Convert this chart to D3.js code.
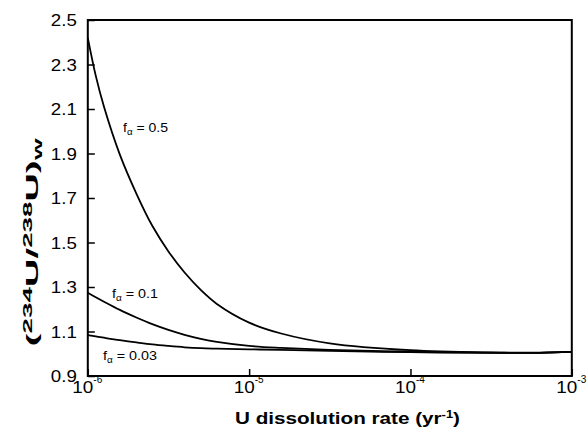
<!DOCTYPE html>
<html><head><meta charset="utf-8">
<script src="https://cdn.jsdelivr.net/npm/d3@7/dist/d3.min.js"></script>
<style>body{margin:0;background:#fff}text{font-family:"Liberation Sans",Arial,sans-serif;fill:#000}</style>
</head><body><svg id="c" width="587" height="434"></svg>
<script>
// ---- data ----
const rates = [1.0e-6, 1.12e-6, 1.26e-6, 1.58e-6, 2.0e-6, 2.51e-6, 3.16e-6, 3.98e-6, 5.01e-6, 6.31e-6, 1.0e-5, 1.58e-5, 3.16e-5, 1.0e-4, 3.16e-4, 6.31e-4, 1.0e-3];
const fa05  = [2.42, 2.25, 2.11, 1.895, 1.72, 1.575, 1.46, 1.365, 1.287, 1.224, 1.140, 1.091, 1.047, 1.016, 1.006, 1.005, 1.008];
const fa01  = [1.274, 1.254, 1.234, 1.197, 1.163, 1.133, 1.107, 1.085, 1.067, 1.053, 1.035, 1.026, 1.017, 1.009, 1.005, 1.004, 1.008];
const fa003 = [1.084, 1.078, 1.072, 1.061, 1.051, 1.042, 1.035, 1.029, 1.025, 1.023, 1.020, 1.017, 1.013, 1.007, 1.004, 1.004, 1.008];
const seriesLabels = ["0.5", "0.1", "0.03"];
const yTicks = [0.9, 1.1, 1.3, 1.5, 1.7, 1.9, 2.1, 2.3, 2.5];
const xTicks = [1e-6, 1e-5, 1e-4, 1e-3];
const xTickExp = ["-6", "-5", "-4", "-3"];

const svg = d3.select("#c");
svg.append("rect").attr("width", 587).attr("height", 434).attr("fill", "#fff");

const L = 87.8, R = 571.8, T = 20, B = 376;
const x = d3.scaleLog().domain([1e-6, 1e-3]).range([L, R]);
const y = d3.scaleLinear().domain([0.9, 2.5]).range([B, T]);

// axes
const ya = svg.append("g").attr("transform", `translate(${L},0)`)
  .call(d3.axisLeft(y).tickValues(yTicks).tickSizeInner(-7).tickSizeOuter(0).tickFormat(d3.format(".1f")));
ya.select(".domain").remove();
ya.selectAll(".tick line").attr("stroke", "#000").attr("stroke-width", 1.5);
ya.selectAll(".tick text").attr("x", -11).attr("dy", null).attr("y", 5.8)
  .attr("text-anchor", "end").style("font-size", "16px")
  .attr("textLength", 26).attr("lengthAdjust", "spacingAndGlyphs");

const xa = svg.append("g").attr("transform", `translate(0,${B})`)
  .call(d3.axisBottom(x).tickValues(xTicks).tickSizeInner(-7).tickSizeOuter(0).tickFormat(""));
xa.select(".domain").remove();
xa.selectAll(".tick line").attr("stroke", "#000").attr("stroke-width", 1.5);
xa.selectAll(".tick text").each(function(d, i) {
  const t = d3.select(this).attr("y", 17).attr("dy", null).attr("x", -1)
    .attr("text-anchor", "middle").style("font-size", "16px").text(null);
  t.append("tspan").text("10").attr("textLength", 21).attr("lengthAdjust", "spacingAndGlyphs");
  t.append("tspan").text(xTickExp[i]).style("font-size", "10px").attr("dy", -10);
});

// frame
svg.append("rect").attr("x", L).attr("y", T).attr("width", R - L).attr("height", B - T)
  .attr("fill", "none").attr("stroke", "#000").attr("stroke-width", 2);

// curves
const line = d3.line().x(d => x(d[0])).y(d => y(d[1])).curve(d3.curveCatmullRom.alpha(0.5));
[fa05, fa01, fa003].forEach(vals => {
  svg.append("path").datum(rates.map((r, i) => [r, vals[i]]))
    .attr("d", line).attr("fill", "none").attr("stroke", "#000").attr("stroke-width", 1.8);
});

// curve labels
const labPos = [[123, 131.7, 45], [112, 298.3, 46], [103, 359.5, 54]];
seriesLabels.forEach((s, i) => {
  const t = svg.append("text").attr("x", labPos[i][0]).attr("y", labPos[i][1])
    .style("font-size", "13px").attr("textLength", labPos[i][2]).attr("lengthAdjust", "spacingAndGlyphs");
  t.append("tspan").text("f");
  t.append("tspan").text("α").style("font-size", "9px").attr("dy", 3);
  t.append("tspan").text(" = " + s).attr("dy", -3);
});

// axis titles
const xt = svg.append("text").attr("x", 235).attr("y", 423.5).style("font-size", "16px")
  .style("font-weight", "bold").attr("textLength", 225).attr("lengthAdjust", "spacingAndGlyphs");
xt.append("tspan").text("U dissolution rate (yr");
xt.append("tspan").text("-1").style("font-size", "10px").attr("dy", -6);
xt.append("tspan").text(")").attr("dy", 6);

const yt = svg.append("text").attr("transform", "translate(38,242.5) rotate(-90)")
  .attr("text-anchor", "middle").style("font-size", "17px").style("font-weight", "bold")
  .attr("textLength", 208).attr("lengthAdjust", "spacingAndGlyphs");
yt.append("tspan").text("(");
yt.append("tspan").text("234").style("font-size", "12px").attr("dy", -6);
yt.append("tspan").text("U/").attr("dy", 6);
yt.append("tspan").text("238").style("font-size", "12px").attr("dy", -6);
yt.append("tspan").text("U)").attr("dy", 6);
yt.append("tspan").text("w").style("font-size", "12px").attr("dy", 4);
</script></body></html>
